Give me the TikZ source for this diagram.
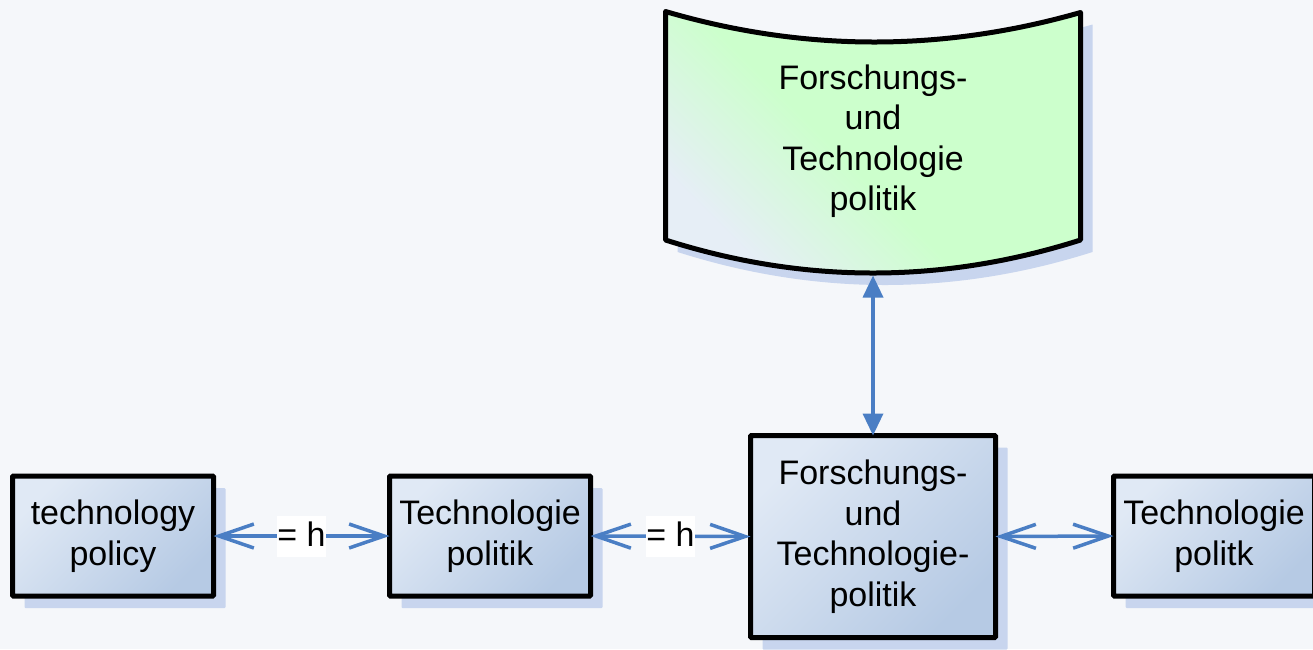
\documentclass[tikz,border=0pt]{standalone}
\usepackage{fontspec}
\setmainfont{Liberation Sans}
\usetikzlibrary{arrows.meta,shadows}
\definecolor{bg}{RGB}{245,247,250}
\definecolor{arrowblue}{RGB}{74,126,196}
\definecolor{boxtop}{RGB}{224,233,245}
\definecolor{boxbot}{RGB}{182,202,228}
\definecolor{shadowc}{RGB}{200,213,238}
\definecolor{greenc}{RGB}{204,255,204}
\definecolor{palec}{RGB}{230,238,246}
\pgfdeclareverticalshading{bannershade}{100bp}{color(0bp)=(palec); color(26bp)=(palec); color(46bp)=(greenc); color(100bp)=(greenc)}
\begin{document}
\begin{tikzpicture}[x=1pt,y=-1pt,
  every node/.style={font=\fontsize{34}{40.5}\selectfont, text=black},
  boxnode/.style={draw=black, line width=5pt, rounded corners=1pt, outer sep=0pt,
    top color=boxtop, bottom color=boxbot, shading angle=45,
    minimum width=201pt, minimum height=120pt, inner sep=0pt, align=center,
    drop shadow={shadow xshift=12pt, shadow yshift=-12pt, fill=shadowc, opacity=1}},
  link/.style={draw=arrowblue, line width=3.5pt,
    {Straight Barb[length=35pt,width=24pt]}-{Straight Barb[length=35pt,width=24pt]}},
  vlink/.style={draw=arrowblue, line width=3.5pt,
    {Triangle[length=22pt,width=20pt]}-{Triangle[length=22pt,width=20pt]}},
  eqlabel/.style={fill=white, inner sep=0pt, text height=31pt, text depth=10pt}
]
\fill[bg] (0,0) rectangle (1313,649);
\useasboundingbox (0,0) rectangle (1313,649);

% banner
\path[draw=black, line width=5pt, line join=round,
  shading=bannershade, shading angle=-45,
  drop shadow={shadow xshift=12pt, shadow yshift=-12pt, fill=shadowc, opacity=1}]
  (665.5,11.5) .. controls (803.8,52) and (942.2,52) .. (1080.5,12.5)
  -- (1080.5,240) .. controls (942.2,284) and (803.8,284) .. (665.5,240) -- cycle;
\node[align=center] (banner) at (873,141) {Forschungs-\\und\\Technologie\\politik};
\coordinate (bannerbottom) at (873,275.5);

% boxes
\node[boxnode] (tp) at (113,536) {technology\\policy};
\node[boxnode] (tpol) at (490,536) {Technologie\\politik};
\node[boxnode, minimum width=245pt, minimum height=202pt] (ftp) at (873,536.5) {Forschungs-\\und\\Technologie-\\politik};
\node[boxnode] (tpk) at (1214,536) {Technologie\\politk};

% connectors
\draw[link] (tp.east) -- node[eqlabel] {= h} (tpol.west);
\draw[link] (tpol.east) -- node[eqlabel] {= h} (ftp.west);
\draw[link] (ftp.east) -- (tpk.west);
\draw[vlink] (bannerbottom) -- (ftp.north);
\end{tikzpicture}
\end{document}
